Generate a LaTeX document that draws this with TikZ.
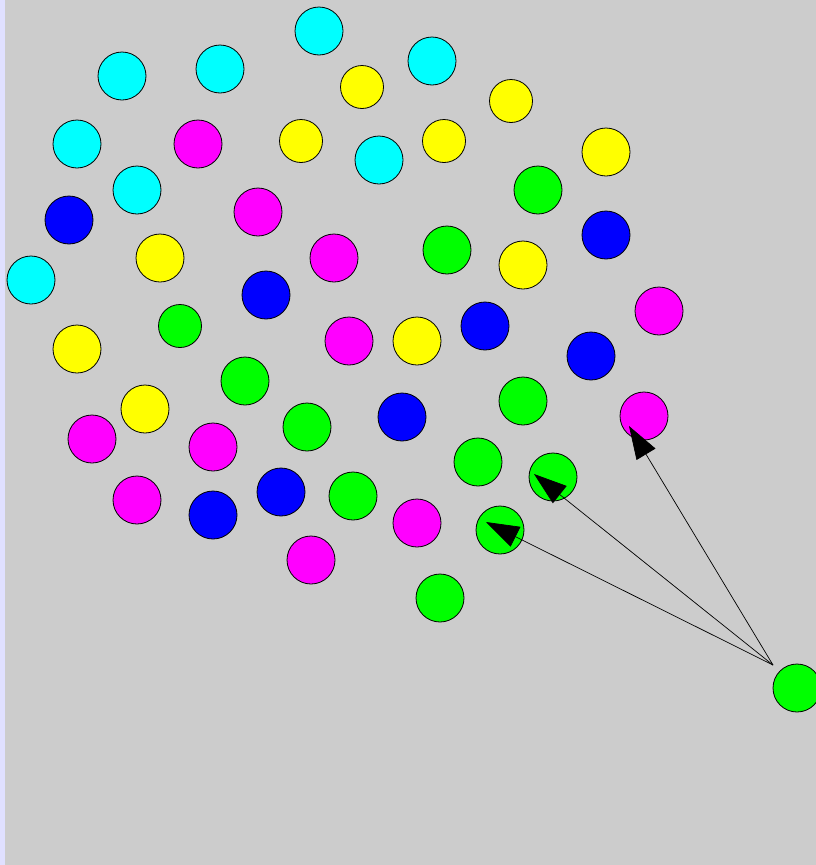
\documentclass[tikz,border=0pt]{standalone}
\usepackage{tikz}
\usetikzlibrary{arrows.meta}
\definecolor{bggray}{RGB}{204,204,204}
\definecolor{edgeblue}{RGB}{224,224,255}
\definecolor{ballcyan}{RGB}{0,255,255}
\definecolor{ballmagenta}{RGB}{255,0,255}
\definecolor{ballyellow}{RGB}{255,255,0}
\definecolor{ballgreen}{RGB}{0,255,0}
\definecolor{ballblue}{RGB}{0,0,255}
\tikzset{
  ball/.style={circle, draw=black, line width=0.8pt, minimum size=48pt, inner sep=0pt},
  smallball/.style={ball, minimum size=43pt},
  pointer/.style={draw=black, line width=0.7pt, -{Triangle[length=33pt, width=22pt]}}
}

\begin{document}
\begin{tikzpicture}[x=1pt, y=-1pt]
  \useasboundingbox (0,0) rectangle (816,865);
  \clip (0,0) rectangle (816,865);
  \fill[bggray] (0,0) rectangle (816,865);
  \fill[edgeblue] (0,0) rectangle (5,865);

  % cyan balls
  \node[ball, fill=ballcyan] (c1) at (319,31) {};
  \node[ball, fill=ballcyan] (c2) at (122,76) {};
  \node[ball, fill=ballcyan] (c3) at (220,69) {};
  \node[ball, fill=ballcyan] (c4) at (432,61) {};
  \node[ball, fill=ballcyan] (c5) at (77,144) {};
  \node[ball, fill=ballcyan] (c6) at (379,160) {};
  \node[ball, fill=ballcyan] (c7) at (137,190) {};
  \node[ball, fill=ballcyan] (c8) at (31,280) {};

  % yellow balls
  \node[smallball, fill=ballyellow] (y1) at (362,87) {};
  \node[smallball, fill=ballyellow] (y2) at (511,101) {};
  \node[smallball, fill=ballyellow] (y3) at (301,141) {};
  \node[smallball, fill=ballyellow] (y4) at (444,141) {};
  \node[ball, fill=ballyellow] (y5) at (606,152) {};
  \node[ball, fill=ballyellow] (y6) at (160,258) {};
  \node[ball, fill=ballyellow] (y7) at (523,265) {};
  \node[ball, fill=ballyellow] (y8) at (77,349) {};
  \node[ball, fill=ballyellow] (y9) at (417,341) {};
  \node[ball, fill=ballyellow] (y10) at (145,409) {};

  % magenta balls
  \node[ball, fill=ballmagenta] (m1) at (198,144) {};
  \node[ball, fill=ballmagenta] (m2) at (258,212) {};
  \node[ball, fill=ballmagenta] (m3) at (334,258) {};
  \node[ball, fill=ballmagenta] (m4) at (659,311) {};
  \node[ball, fill=ballmagenta] (m5) at (349,341) {};
  \node[ball, fill=ballmagenta] (m6) at (644,416) {};
  \node[ball, fill=ballmagenta] (m7) at (92,439) {};
  \node[ball, fill=ballmagenta] (m8) at (213,447) {};
  \node[ball, fill=ballmagenta] (m9) at (137,500) {};
  \node[ball, fill=ballmagenta] (m10) at (417,523) {};
  \node[ball, fill=ballmagenta] (m11) at (311,560) {};

  % blue balls
  \node[ball, fill=ballblue] (b1) at (69,220) {};
  \node[ball, fill=ballblue] (b2) at (606,235) {};
  \node[ball, fill=ballblue] (b3) at (266,295) {};
  \node[ball, fill=ballblue] (b4) at (485,326) {};
  \node[ball, fill=ballblue] (b5) at (591,356) {};
  \node[ball, fill=ballblue] (b6) at (402,417) {};
  \node[ball, fill=ballblue] (b7) at (281,492) {};
  \node[ball, fill=ballblue] (b8) at (213,515) {};

  % green balls
  \node[ball, fill=ballgreen] (g1) at (538,190) {};
  \node[ball, fill=ballgreen] (g2) at (447,250) {};
  \node[smallball, fill=ballgreen] (g3) at (180,326) {};
  \node[ball, fill=ballgreen] (g4) at (245,381) {};
  \node[ball, fill=ballgreen] (g5) at (307,427) {};
  \node[ball, fill=ballgreen] (g6) at (523,401) {};
  \node[ball, fill=ballgreen] (g7) at (478,462) {};
  \node[ball, fill=ballgreen] (g8) at (553,477) {};
  \node[ball, fill=ballgreen] (g9) at (353,496) {};
  \node[ball, fill=ballgreen] (g10) at (500,530) {};
  \node[ball, fill=ballgreen] (g11) at (440,598) {};
  \node[ball, fill=ballgreen] (g12) at (797,688) {};

  % pointers
  \coordinate (src) at (773,665);
  \coordinate (tipm6) at (629,426);
  \coordinate (tipg8) at (534,474);
  \coordinate (tipg10) at (486,522);
  \draw[pointer] (src) -- (tipm6);
  \draw[pointer] (src) -- (tipg8);
  \draw[pointer] (src) -- (tipg10);
\end{tikzpicture}
\end{document}
